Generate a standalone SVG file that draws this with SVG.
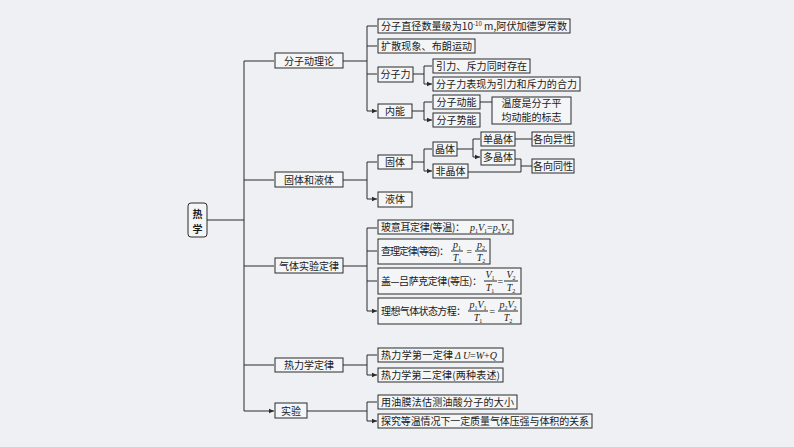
<svg xmlns="http://www.w3.org/2000/svg" width="794" height="447" viewBox="0 0 794 447">
<defs>
<style>
.b{fill:#f4f5f7;stroke:#2a2a2a;stroke-width:1}
.t{font-family:"Noto Sans CJK SC","Liberation Serif",serif;font-size:10px;fill:#1a1a1a}
.m{font-family:"Liberation Serif",serif;font-style:italic;font-size:10px;fill:#1a1a1a}
.s{font-size:6px;font-style:normal}
.c{fill:none;stroke:#2a2a2a;stroke-width:1}
</style>
<marker id="a" markerWidth="6" markerHeight="6" refX="5" refY="3" orient="auto" markerUnits="userSpaceOnUse"><path d="M0,0.8 L5,3 L0,5.2z" fill="#2a2a2a"/></marker>
</defs>
<rect width="794" height="447" fill="#eef0f3"/>
<g id="connectors" class="c">
<path d="M207,220 H244 M244,61 V411"/>
<path d="M244,61 H274 M244,180 H274 M244,266 H274 M244,365 H274 M244,411 H274" marker-end="url(#a)"/>
<path d="M343,61 H367 M367,26 V111"/>
<path d="M367,26 H377 M367,46 H377 M367,74 H377 M367,111 H377" marker-end="url(#a)"/>
<path d="M413,74 H424 M424,66 V84"/>
<path d="M424,66 H432 M424,84 H432" marker-end="url(#a)"/>
<path d="M412,111 H424 M424,102 V120"/>
<path d="M424,102 H432 M424,120 H432" marker-end="url(#a)"/>
<path d="M480,102 H492"/>
<path d="M343,180 H367 M367,162 V199"/>
<path d="M367,162 H377 M367,199 H377" marker-end="url(#a)"/>
<path d="M412,162 H424 M424,149 V171"/>
<path d="M424,149 H432 M424,171 H432" marker-end="url(#a)"/>
<path d="M457,149 H473 M473,139 V157"/>
<path d="M473,139 H480 M473,157 H480" marker-end="url(#a)"/>
<path d="M515,139 H532 M515,159 H521 V172 M468,172 H521 M521,166 H532"/>
<path d="M343,266 H367 M367,228 V311"/>
<path d="M367,228 H377 M367,251 H377 M367,281 H377 M367,311 H377" marker-end="url(#a)"/>
<path d="M343,365 H367 M367,355 V375"/>
<path d="M367,355 H377 M367,375 H377" marker-end="url(#a)"/>
<path d="M307,411 H367 M367,402 V421"/>
<path d="M367,402 H377 M367,421 H377" marker-end="url(#a)"/>
</g>
<g id="root"><rect class="b" x="188" y="203" width="19" height="34" rx="3"/><text class="t" x="197.5" y="218" text-anchor="middle" font-size="13" font-weight="bold">热</text><text class="t" x="197.5" y="233" text-anchor="middle" font-size="13" font-weight="bold">学</text></g>
<g id="n1"><rect class="b" x="275" y="53" width="68" height="15"/><text class="t" x="309" y="64.5" text-anchor="middle">分子动理论</text></g>
<g id="n2"><rect class="b" x="275" y="172" width="68" height="15"/><text class="t" x="309" y="183.5" text-anchor="middle">固体和液体</text></g>
<g id="n3"><rect class="b" x="275" y="258" width="68" height="15"/><text class="t" x="309" y="269.5" text-anchor="middle">气体实验定律</text></g>
<g id="n4"><rect class="b" x="275" y="358" width="68" height="14"/><text class="t" x="309" y="369" text-anchor="middle">热力学定律</text></g>
<g id="n5"><rect class="b" x="275" y="403" width="32" height="15"/><text class="t" x="291" y="414.5" text-anchor="middle">实验</text></g>
<g id="n11"><rect class="b" x="378" y="19" width="192" height="14"/><text class="t" x="381" y="30" textLength="186" lengthAdjust="spacingAndGlyphs">分子直径数量级为10<tspan font-size="6" dy="-4">-10</tspan><tspan dy="4"> m,阿伏加德罗常数</tspan></text></g>
<g id="n12"><rect class="b" x="378" y="39" width="97" height="14"/><text class="t" x="381" y="50" textLength="91">扩散现象、布朗运动</text></g>
<g id="n13"><rect class="b" x="378" y="67" width="35" height="15"/><text class="t" x="395.5" y="78" text-anchor="middle">分子力</text></g>
<g id="n14"><rect class="b" x="378" y="104" width="34" height="14"/><text class="t" x="395" y="115" text-anchor="middle">内能</text></g>
<g id="n131"><rect class="b" x="433" y="59" width="97" height="14"/><text class="t" x="436" y="70" textLength="91">引力、斥力同时存在</text></g>
<g id="n132"><rect class="b" x="433" y="77" width="147" height="14"/><text class="t" x="436" y="88" textLength="141">分子力表现为引力和斥力的合力</text></g>
<g id="n141"><rect class="b" x="433" y="95" width="47" height="14"/><text class="t" x="456.5" y="106" text-anchor="middle">分子动能</text></g>
<g id="n142"><rect class="b" x="433" y="113" width="47" height="14"/><text class="t" x="456.5" y="124" text-anchor="middle">分子势能</text></g>
<g id="n143"><rect class="b" x="492" y="97" width="79" height="27"/><text class="t" x="531.5" y="107" text-anchor="middle">温度是分子平</text><text class="t" x="531.5" y="121" text-anchor="middle">均动能的标志</text></g>
<g id="n21"><rect class="b" x="378" y="155" width="34" height="14"/><text class="t" x="395" y="166" text-anchor="middle">固体</text></g>
<g id="n22"><rect class="b" x="378" y="192" width="34" height="15"/><text class="t" x="395" y="203" text-anchor="middle">液体</text></g>
<g id="n211"><rect class="b" x="433" y="142" width="24" height="14"/><text class="t" x="445" y="153" text-anchor="middle">晶体</text></g>
<g id="n212"><rect class="b" x="433" y="164" width="35" height="14"/><text class="t" x="450.5" y="175" text-anchor="middle">非晶体</text></g>
<g id="n2111"><rect class="b" x="481" y="132" width="34" height="14"/><text class="t" x="498" y="143" text-anchor="middle">单晶体</text></g>
<g id="n2112"><rect class="b" x="481" y="150" width="34" height="15"/><text class="t" x="498" y="161" text-anchor="middle">多晶体</text></g>
<g id="n2113"><rect class="b" x="532" y="132" width="42" height="14"/><text class="t" x="553" y="143" text-anchor="middle">各向异性</text></g>
<g id="n2114"><rect class="b" x="532" y="159" width="42" height="14"/><text class="t" x="553" y="170" text-anchor="middle">各向同性</text></g>
<g id="n31"><rect class="b" x="378" y="220" width="135" height="14"/><text class="t" x="381" y="231" textLength="84">玻意耳定律(等温)：</text><text class="m" x="470" y="231">p<tspan class="s" dy="2">1</tspan><tspan dy="-2">V</tspan><tspan class="s" dy="2">1</tspan><tspan dy="-2" font-style="normal">=</tspan>p<tspan class="s" dy="2">2</tspan><tspan dy="-2">V</tspan><tspan class="s" dy="2">2</tspan></text></g>
<g id="n32"><rect class="b" x="378" y="239" width="112" height="25"/><text class="t" x="381" y="255" textLength="68">查理定律(等容)：</text>
<text class="m" x="457" y="248" text-anchor="middle">p<tspan class="s" dy="2">1</tspan></text><path class="c" d="M451,251 H463"/><text class="m" x="457" y="261" text-anchor="middle">T<tspan class="s" dy="2">1</tspan></text>
<text class="m" x="469" y="255" text-anchor="middle" font-style="normal">=</text>
<text class="m" x="481" y="248" text-anchor="middle">p<tspan class="s" dy="2">2</tspan></text><path class="c" d="M475,251 H487"/><text class="m" x="481" y="261" text-anchor="middle">T<tspan class="s" dy="2">2</tspan></text></g>
<g id="n33"><rect class="b" x="378" y="268" width="143" height="26"/><text class="t" x="381" y="285" textLength="101">盖—吕萨克定律(等压)：</text>
<text class="m" x="490" y="278" text-anchor="middle">V<tspan class="s" dy="2">1</tspan></text><path class="c" d="M484,281 H497"/><text class="m" x="490" y="291" text-anchor="middle">T<tspan class="s" dy="2">1</tspan></text>
<text class="m" x="500" y="285" text-anchor="middle" font-style="normal">=</text>
<text class="m" x="511" y="278" text-anchor="middle">V<tspan class="s" dy="2">2</tspan></text><path class="c" d="M504,281 H518"/><text class="m" x="511" y="291" text-anchor="middle">T<tspan class="s" dy="2">2</tspan></text></g>
<g id="n34"><rect class="b" x="378" y="298" width="143" height="26"/><text class="t" x="381" y="315" textLength="85">理想气体状态方程：</text>
<text class="m" x="478" y="308" text-anchor="middle">p<tspan class="s" dy="2">1</tspan><tspan dy="-2">V</tspan><tspan class="s" dy="2">1</tspan></text><path class="c" d="M468,311 H488"/><text class="m" x="478" y="321" text-anchor="middle">T<tspan class="s" dy="2">1</tspan></text>
<text class="m" x="492" y="315" text-anchor="middle" font-style="normal">=</text>
<text class="m" x="508" y="308" text-anchor="middle">p<tspan class="s" dy="2">2</tspan><tspan dy="-2">V</tspan><tspan class="s" dy="2">2</tspan></text><path class="c" d="M498,311 H518"/><text class="m" x="508" y="321" text-anchor="middle">T<tspan class="s" dy="2">2</tspan></text></g>
<g id="n41"><rect class="b" x="378" y="348" width="125" height="14"/><text class="t" x="381" y="359" textLength="72">热力学第一定律</text><text class="m" x="455" y="359">Δ<tspan dx="2">U</tspan><tspan font-style="normal">=</tspan>W<tspan font-style="normal">+</tspan>Q</text></g>
<g id="n42"><rect class="b" x="378" y="368" width="125" height="14"/><text class="t" x="381" y="379" textLength="119">热力学第二定律(两种表述)</text></g>
<g id="n51"><rect class="b" x="378" y="395" width="139" height="14"/><text class="t" x="381" y="406" textLength="133">用油膜法估测油酸分子的大小</text></g>
<g id="n52"><rect class="b" x="378" y="414" width="214" height="14"/><text class="t" x="381" y="425" textLength="208">探究等温情况下一定质量气体压强与体积的关系</text></g>
</svg>
